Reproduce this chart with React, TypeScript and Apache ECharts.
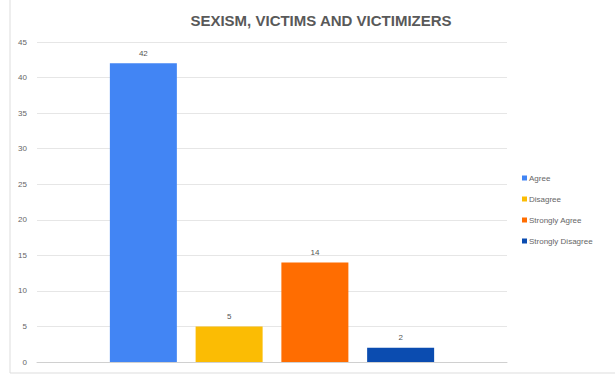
import React, { useEffect, useRef } from "react";
import * as echarts from "echarts";

const categories = [""];
const seriesNames = ["Agree", "Disagree", "Strongly Agree", "Strongly Disagree"];
const seriesValues = [42, 5, 14, 2];
const seriesColors = ["#4285F4", "#FBBC04", "#FF6D01", "#0B4CB0"];

export default function App() {
  const ref = useRef<HTMLDivElement>(null);
  useEffect(() => {
    if (!ref.current) return;
    const chart = echarts.init(ref.current, undefined, { renderer: "svg" });
    chart.setOption({
      animation: false,
      backgroundColor: "#ffffff",
      title: {
        text: "SEXISM, VICTIMS AND VICTIMIZERS",
        left: 316,
        textAlign: "center",
        top: 8,
        textStyle: { fontFamily: "Arial, Liberation Sans", fontSize: 15, fontWeight: "bold", color: "#595959" },
      },
      legend: {
        orient: "vertical",
        left: 517,
        top: 169,
        itemWidth: 5,
        itemHeight: 5,
        itemGap: 13,
        icon: "rect",
        textStyle: { fontFamily: "Arial, Liberation Sans", fontSize: 8, color: "#666", padding: [0, 0, 0, -3] },
        data: seriesNames,
      },
      grid: { left: 37, right: 108, top: 42, bottom: 13 },
      xAxis: {
        type: "category",
        data: categories,
        axisLine: { show: true, lineStyle: { color: "#d0d0d0" } },
        axisTick: { show: false },
        axisLabel: { show: false },
      },
      yAxis: {
        type: "value",
        min: 0,
        max: 45,
        interval: 5,
        axisLine: { show: false },
        axisTick: { show: false },
        axisLabel: { fontFamily: "Arial, Liberation Sans", fontSize: 8, color: "#666", margin: 10 },
        splitLine: { lineStyle: { color: "#e6e6e6" } },
      },
      graphic: [
        { type: "line", shape: { x1: 10, y1: 0, x2: 10, y2: 373 }, style: { stroke: "#dddddd", lineWidth: 1 } },
        { type: "line", shape: { x1: 10, y1: 373, x2: 615, y2: 373 }, style: { stroke: "#dddddd", lineWidth: 1 } },
      ],
      series: seriesNames.map((name, i) => ({
        name,
        type: "bar",
        data: [seriesValues[i]],
        barWidth: 67,
        barGap: "28%",
        itemStyle: { color: seriesColors[i] },
        label: {
          show: true,
          position: "top",
          distance: 6,
          fontFamily: "Arial, Liberation Sans",
          fontSize: 8,
          color: "#555",
        },
      })),
    });
    return () => chart.dispose();
  }, []);
  return <div ref={ref} style={{ position: "absolute", left: 0, top: 0, width: 615, height: 375 }} />;
}
